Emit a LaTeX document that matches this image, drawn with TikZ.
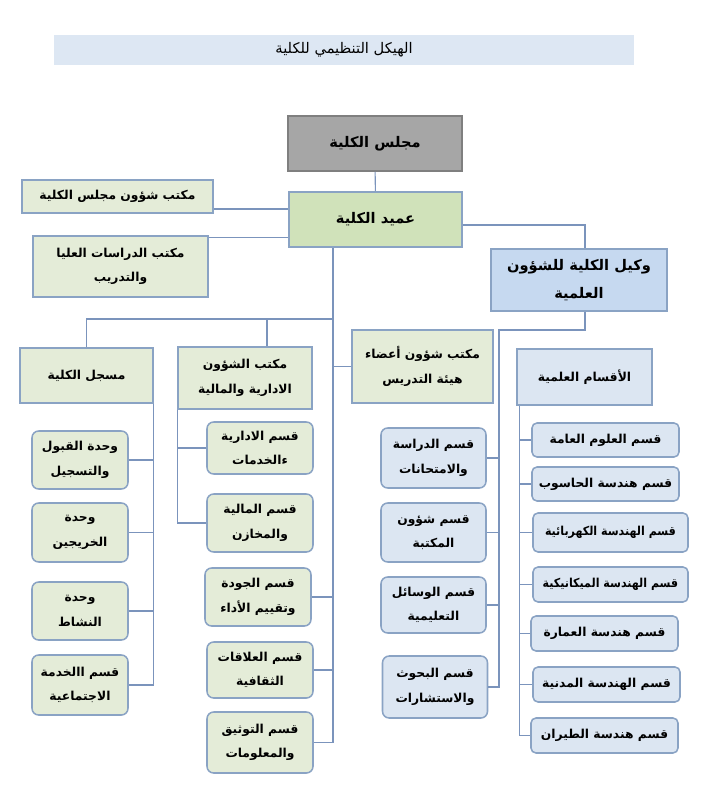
\documentclass[tikz,border=0pt]{standalone}
\usepackage{fontspec}
\usepackage{tikz}
\usetikzlibrary{positioning,calc}
\usepackage{xcolor}
\TeXXeTstate=1
\newfontfamily\arabicfont[Script=Arabic]{DejaVu Sans}
\newcommand{\ar}[1]{{\arabicfont\beginR #1\endR}}
\newcommand{\arnarrow}[1]{\scalebox{0.9}[1]{\ar{#1}}}
\definecolor{linec}{HTML}{7B94BC}
\definecolor{boxline}{HTML}{8AA3C4}
\definecolor{deanfill}{HTML}{D0E2BA}
\definecolor{greenfill}{HTML}{E4ECD8}
\definecolor{greyfill}{HTML}{A6A6A6}
\definecolor{greyline}{HTML}{7F7F7F}
\definecolor{vicefill}{HTML}{C6D9F0}
\definecolor{bluefill}{HTML}{DCE6F2}
\definecolor{titlefill}{HTML}{DDE7F3}

\begin{document}
\begin{tikzpicture}[
  x=0.03cm, y=-0.03cm,
  font=\fontsize{10.5}{21}\selectfont\bfseries,
  wh/.style 2 args={minimum width=#1*0.03cm, minimum height=#2*0.03cm},
  box/.style={draw=boxline, line width=1.3pt, inner sep=1pt, align=center},
  bigbox/.style={box, font=\fontsize{12.5}{24}\selectfont\bfseries},
  greenbox/.style={box, fill=greenfill},
  unit/.style={box, fill=greenfill, rounded corners=0.2cm},
  dept/.style={box, fill=bluefill, rounded corners=0.2cm},
  sdept/.style={box, fill=bluefill, rounded corners=0.15cm},
  titlebar/.style={fill=titlefill, font=\fontsize{12.5}{14}\selectfont\mdseries},
  link/.style={draw=linec, line width=0.9pt},
]
\fill[white] (0,0) rectangle (710,789);
\useasboundingbox (0,0) rectangle (710,789);

\node[titlebar, wh={580}{30}] (title) at (344,50) {\ar{الهيكل التنظيمي للكلية}};

% top of the tree
\node[bigbox, fill=greyfill, draw=greyline, wh={174}{55}] (council) at (375,143.5) {\ar{مجلس الكلية}};
\node[bigbox, fill=deanfill, wh={173}{55}] (dean) at (375.5,219.5) {\ar{عميد الكلية}};
\node[greenbox, wh={191}{33}] (cbo) at (117.5,196.5) {\ar{مكتب شؤون مجلس الكلية}};
\node[greenbox, wh={175}{61}] (grad) at (120.5,266.5) {\ar{مكتب الدراسات العليا}\\\ar{والتدريب}};
\node[bigbox, fill=vicefill, wh={176}{62}] (vice) at (579,280) {\ar{وكيل الكلية للشؤون}\\\ar{العلمية}};

% second row
\node[greenbox, wh={133}{55}] (reg) at (86.5,375.5) {\ar{مسجل الكلية}};
\node[greenbox, wh={134}{62}] (admin) at (245,378) {\ar{مكتب الشؤون}\\\ar{الادارية والمالية}};
\node[greenbox, wh={141}{73}] (staff) at (422.5,366.5) {\ar{مكتب شؤون أعضاء}\\\ar{هيئة التدريس}};
\node[box, fill=bluefill, wh={135}{56}] (depts) at (584.5,377) {\ar{الأقسام العلمية}};

% units under the registrar
\node[unit, wh={96}{58}] (r1) at (80,460) {\ar{وحدة القبول}\\\ar{والتسجيل}};
\node[unit, wh={96}{59}] (r2) at (80,532.5) {\ar{وحدة}\\\ar{الخريجين}};
\node[unit, wh={96}{58}] (r3) at (80,611) {\ar{وحدة}\\\ar{النشاط}};
\node[unit, wh={96}{60}] (r4) at (80,685) {\ar{قسم االخدمة}\\\ar{الاجتماعية}};

% admin sections and dean sections
\node[unit, wh={106}{52}] (a1) at (260,448) {\ar{قسم الادارية}\\\ar{ءالخدمات}};
\node[unit, wh={106}{58}] (a2) at (260,523) {\ar{قسم المالية}\\\ar{والمخازن}};
\node[unit, wh={106}{58}] (a3) at (258,597) {\ar{قسم الجودة}\\\ar{وتقييم الأداء}};
\node[unit, wh={106}{56}] (a4) at (260,670) {\ar{قسم العلاقات}\\\ar{الثقافية}};
\node[unit, wh={106}{61}] (a5) at (260,742.5) {\ar{قسم التوثيق}\\\ar{والمعلومات}};

% scientific affairs sections
\node[dept, wh={105}{60}] (s1) at (433.5,458) {\ar{قسم الدراسة}\\\ar{والامتحانات}};
\node[dept, wh={105}{59}] (s2) at (433.5,532.5) {\ar{قسم شؤون}\\\ar{المكتبة}};
\node[dept, wh={105}{56}] (s3) at (433.5,605) {\ar{قسم الوسائل}\\\ar{التعليمية}};
\node[dept, wh={105}{62}] (s4) at (435,687) {\ar{قسم البحوث}\\\ar{والاستشارات}};

% departments
\node[sdept, wh={147}{34}] (d1) at (605.5,440) {\ar{قسم العلوم العامة}};
\node[sdept, wh={147}{34}] (d2) at (605.5,484) {\ar{قسم هندسة الحاسوب}};
\node[sdept, wh={155}{39}] (d3) at (610.5,532.5) {\arnarrow{قسم الهندسة الكهربائية}};
\node[sdept, wh={155}{35}] (d4) at (610.5,584.5) {\arnarrow{قسم الهندسة الميكانيكية}};
\node[sdept, wh={147}{35}] (d5) at (604.5,633.5) {\ar{قسم هندسة العمارة}};
\node[sdept, wh={147}{35}] (d6) at (606.5,684.5) {\ar{قسم الهندسة المدنية}};
\node[sdept, wh={147}{35}] (d7) at (604.5,735.5) {\ar{قسم هندسة الطيران}};

% connectors
\coordinate (trunk) at (333,319);
\coordinate (sci) at (499,330);
\coordinate (dl) at ([xshift=0.09cm]depts.south west);

\draw[link] (council) -- (dean);
\draw[link] ([yshift=-0.375cm]cbo.east) coordinate (c1) -- (c1 -| dean.west);
\draw[link] ([yshift=-0.06cm]grad.north east) coordinate (c2) -- (c2 -| dean.west);
\draw[link] ([yshift=-0.165cm]dean.east) -| ([xshift=0.18cm]vice.north);

\draw[link] (dean.south -| trunk) |- (a5.east);
\draw[link] (reg.north) |- (trunk);
\draw[link] ([xshift=0.66cm]admin.north) |- (trunk);
\draw[link] (staff.west) -- (staff.west -| trunk);
\foreach \n in {a3,a4} \draw[link] (\n.east) -- (\n.east -| trunk);

\draw[link] (reg.south east) |- (r4.east);
\foreach \n in {r1,r2,r3} \draw[link] (\n.east) -- (\n.east -| reg.south east);

\draw[link] (admin.south west) |- (a2.west);
\draw[link] (a1.west) -- (a1.west -| admin.south west);

\draw[link] ([xshift=0.18cm]vice.south) |- (sci) |- (s4.east);
\foreach \n in {s1,s2,s3} \draw[link] (\n.east) -- (\n.east -| sci);

\draw[link] (dl) |- (d7.west);
\foreach \n in {d1,d2,d3,d4,d5,d6} \draw[link] (\n.west) -- (\n.west -| dl);

\end{tikzpicture}
\end{document}
